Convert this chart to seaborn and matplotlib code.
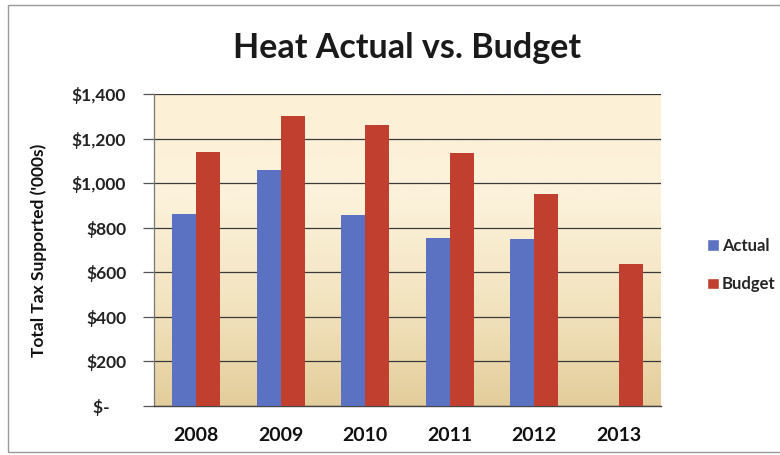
import numpy as np
import pandas as pd
import matplotlib
matplotlib.use("Agg")
import matplotlib.pyplot as plt
from matplotlib.colors import LinearSegmentedColormap
from matplotlib.patches import Rectangle
import seaborn as sns

# Heat costs, total tax supported ('000s)
years = ["2008", "2009", "2010", "2011", "2012", "2013"]
actual = [862, 1059, 857, 755, 749, np.nan]
budget = [1140, 1302, 1259, 1134, 953, 638]
y_ticks = [0, 200, 400, 600, 800, 1000, 1200, 1400]

df = pd.DataFrame({
    "Year": years * 2,
    "Value": actual + budget,
    "Series": ["Actual"] * len(years) + ["Budget"] * len(years),
})

sns.set_theme(style="white")
plt.rcParams["font.family"] = ["Lato", "DejaVu Sans"]

fig = plt.figure(figsize=(7.8, 4.55), dpi=100)
fig.patch.set_facecolor("white")
ax = fig.add_axes([154 / 780, 1 - 406 / 455, 507 / 780, 312 / 455])

palette = {"Actual": "#5b72c2", "Budget": "#c03f2e"}
sns.barplot(data=df, x="Year", y="Value", hue="Series", palette=palette,
            width=0.57, saturation=1, ax=ax, zorder=3, legend=False,
            linewidth=0)

# Cream-to-tan gradient behind the bars
grad = LinearSegmentedColormap.from_list(
    "cream", ["#e3cd9b", "#f3e4c0", "#fcf2db", "#fcf0d6"])
ax.imshow(np.linspace(0, 1, 256).reshape(-1, 1), cmap=grad, aspect="auto",
          origin="lower", extent=[-0.5, 5.5, 0, 1400], zorder=0)

ax.set_xlim(-0.5, 5.5)
ax.set_ylim(0, 1400)
ax.set_yticks(y_ticks)
ax.set_yticklabels([f"${v:,}" if v else "$-    " for v in y_ticks],
                   fontsize=12.5, fontweight="bold", color="#222222")
ax.set_xticks(range(len(years)))
ax.set_xticklabels(years, fontsize=14, fontweight="bold", color="#111111")
ax.grid(axis="y", color="#3a3a3a", linewidth=0.9, zorder=1)
for line in ax.get_ygridlines():
    line.set_zorder(1)

ax.tick_params(axis="y", length=8, width=0.9, color="#555555", pad=12, left=True)
ax.tick_params(axis="x", length=0, pad=15)
ax.set_xlabel("")
ax.set_ylabel("Total Tax Supported ('000s)", fontsize=12.5,
              fontweight="bold", color="#111111")
ax.yaxis.set_label_coords(-(154 - 47) / 507, 0.5)

for side in ["top", "right"]:
    ax.spines[side].set_visible(False)
ax.spines["left"].set_color("#777777")
ax.spines["left"].set_linewidth(0.9)
ax.spines["bottom"].set_color("#444444")
ax.spines["bottom"].set_linewidth(1.0)

ax.set_title("Heat Actual vs. Budget", fontsize=24.5, fontweight="bold",
             color="#1a1a1a", pad=26)

handles = [Rectangle((0, 0), 1, 1, facecolor=palette[s]) for s in ["Actual", "Budget"]]
fig.legend(handles, ["Actual", "Budget"], loc="center left",
           bbox_to_anchor=(707 / 780, 1 - 265 / 455), frameon=False,
           borderpad=0, borderaxespad=0,
           prop={"size": 12, "weight": "bold"}, handlelength=0.7,
           handleheight=0.7, handletextpad=0.2, labelspacing=1.35)

# Outer chart frame
fig.add_artist(Rectangle((8 / 780, 3 / 455), 1.2, 447 / 455,
                         transform=fig.transFigure, fill=False,
                         edgecolor="#9a9a9a", linewidth=1.0))

fig.savefig("out.png", dpi=100, facecolor="white")
